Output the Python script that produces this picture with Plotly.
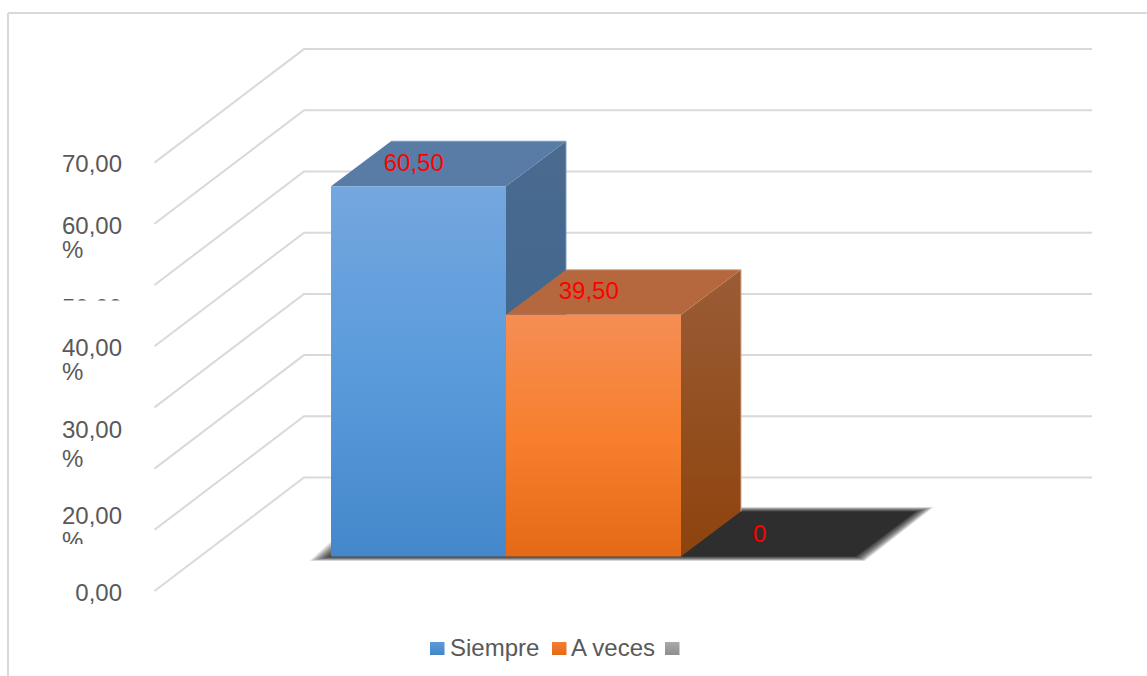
import plotly.graph_objects as go

# ---- data ----
categories = ["Siempre", "A veces", ""]
values = [60.50, 39.50, 0]
value_labels = ["60,50", "39,50", "0"]
grid_values = [0, 10, 20, 30, 40, 50, 60, 70]

# ---- page geometry (pixels of the 1147x676 page) ----
W, H = 1147, 676
X0, BAR_W = 331.0, 175.0        # left edge of first column, column width
Y0, UNIT = 556.5, 6.12          # pixel row of value 0, pixels per value unit


def dx(px):                      # horizontal pixel distance in category units
    return px / BAR_W


def dy(px):                      # vertical pixel distance in value units
    return px / UNIT


def cx(px):                      # page x pixel -> category coordinate
    return (px - X0) / BAR_W


def cy(px):                      # page y pixel -> value coordinate
    return (Y0 - px) / UNIT


BAR_DX, BAR_DY = dx(60), dy(45)  # oblique depth of a column
GRID_L, GRID_M, GRID_R = cx(154.5), cx(304), cx(1092)
GRID_FRONT, GRID_BACK = cy(591), cy(477.5)

front_colors = [["#74a7df", "#5a9bdb", "#4488cb"], ["#f58e54", "#f77f2d", "#e56a18"]]
side_colors = [["#4b6a8f", "#3a648e"], ["#9a5c36", "#8e430c"]]
top_colors = ["#587ca6", "#b5683d"]
edge_colors = ["#7f9dc0", "#d9a88c"]
legend_colors = [["#5b9bd8", "#4286c8"], ["#f47f30", "#e56a18"], ["#aaaaaa", "#8e8e8e"]]
AXIS_TEXT = "#595959"
GRID = "#d9d9d9"
FONT = "Liberation Sans, Arial, sans-serif"
FS = 24

fig = go.Figure()


def poly(xs, ys, color=None, grad=None, g0=None, g1=None):
    t = dict(x=list(xs) + [xs[0]], y=list(ys) + [ys[0]], mode="lines", fill="toself",
             line=dict(width=0), hoverinfo="skip", showlegend=False)
    if grad:
        n = len(grad) - 1
        t["fillgradient"] = dict(type="vertical", start=g0, stop=g1,
                                 colorscale=[[i / n, c] for i, c in enumerate(grad)])
    else:
        t["fillcolor"] = color
    fig.add_trace(go.Scatter(**t))


def text(xs, ys, labels, color, pos, size=FS):
    fig.add_trace(go.Scatter(x=xs, y=ys, text=labels, mode="text", textposition=pos,
                             textfont=dict(family=FONT, size=size, color=color),
                             hoverinfo="skip", showlegend=False))


# gridlines: floor-side diagonal plus back wall
for v in grid_values:
    fig.add_trace(go.Scatter(x=[GRID_L, GRID_M, GRID_R],
                             y=[v + GRID_FRONT, v + GRID_BACK, v + GRID_BACK],
                             mode="lines", line=dict(color=GRID, width=2),
                             hoverinfo="skip", showlegend=False))

# soft floor shadow under all columns: widest at the front-left corner
n_bars = len(values)
LAYERS = 22
for k in range(LAYERS, 0, -1):
    s = k / LAYERS
    fl, fr, br = dx(22 * s), dx(9 * s), dx(18 * s)
    below, above = dy(4.5 * s), dy(4.5 * s)
    poly([-fl, n_bars + fr, n_bars + BAR_DX + br, BAR_DX - fl],
         [-below, -below, BAR_DY + above, BAR_DY + above], color="rgba(0,0,0,0.055)")

# columns
for i, v in enumerate(values):
    if v > 0:
        poly([i + 1, i + 1 + BAR_DX, i + 1 + BAR_DX, i + 1],
             [0, BAR_DY, v + BAR_DY, v], grad=side_colors[i], g0=v + BAR_DY, g1=0)
    top_col = top_colors[i] if v > 0 else "#2e2e2e"
    poly([i, i + 1, i + 1 + BAR_DX, i + BAR_DX], [v, v, v + BAR_DY, v + BAR_DY], color=top_col)
    if v > 0:
        poly([i, i + 1, i + 1, i], [0, 0, v, v], grad=front_colors[i], g0=v, g1=0)
        fig.add_trace(go.Scatter(x=[i + BAR_DX, i + 1 + BAR_DX, i + 1 + BAR_DX],
                                 y=[v + BAR_DY, v + BAR_DY, BAR_DY], mode="lines",
                                 line=dict(color=edge_colors[i], width=1),
                                 hoverinfo="skip", showlegend=False))

# value labels, centred on the column tops
LABEL_SHIFT = [-0.027, -0.027, -0.05]
TEXT_DROP = [dy(1.5), dy(0.5), dy(1.5)]
text([i + 0.5 + LABEL_SHIFT[i] for i in range(n_bars)],
     [v + BAR_DY / 2 - d for v, d in zip(values, TEXT_DROP)], value_labels, "#ff0000", "middle center")

# axis labels, wrapped and clipped as in the source picture
TICK_RIGHT, TICK_LEFT = cx(122), cx(62)
tick_texts = ["70,00", "60,00", "50,00", "40,00", "30,00", "20,00", "0,00"]
tick_rows = [166, 228, 309.5, 350, 432, 518, 595]
pct_rows = [252, 374, 461, 543]
text([TICK_RIGHT] * len(tick_texts), [cy(p) for p in tick_rows], tick_texts, AXIS_TEXT, "middle left")
text([TICK_LEFT] * len(pct_rows), [cy(p) for p in pct_rows], ["%"] * len(pct_rows), AXIS_TEXT, "middle right")
for top_px, bot_px in [(300.5, 330), (544, 572)]:
    poly([cx(50), cx(135), cx(135), cx(50)], [cy(top_px), cy(top_px), cy(bot_px), cy(bot_px)], color="#ffffff")

# legend
swatch_lefts = [430, 552, 665]
text_lefts = [450, 571]
for c, s in zip(legend_colors, swatch_lefts):
    poly([cx(s), cx(s + 14.5), cx(s + 14.5), cx(s)], [cy(642), cy(642), cy(655), cy(655)],
         grad=c, g0=cy(642), g1=cy(655))
text([cx(p) for p in text_lefts], [cy(649.5)] * 2, categories[:2], AXIS_TEXT, "middle right")

# chart frame (top and left edges only are inside the crop)
fig.add_shape(type="line", xref="paper", yref="paper", x0=8 / W, x1=1, y0=1 - 13 / H, y1=1 - 13 / H,
              line=dict(color=GRID, width=2))
fig.add_shape(type="line", xref="paper", yref="paper", x0=8 / W, x1=8 / W, y0=0, y1=1 - 13 / H,
              line=dict(color=GRID, width=2))

fig.update_layout(width=W, height=H, margin=dict(l=0, r=0, t=0, b=0),
                  paper_bgcolor="#ffffff", plot_bgcolor="#ffffff", showlegend=False,
                  xaxis=dict(visible=False, range=[cx(0), cx(W)], fixedrange=True),
                  yaxis=dict(visible=False, range=[cy(H), cy(0)], fixedrange=True))
fig.write_html("out.html", config=dict(displayModeBar=False),
               post_script="document.body.style.margin='0';")
